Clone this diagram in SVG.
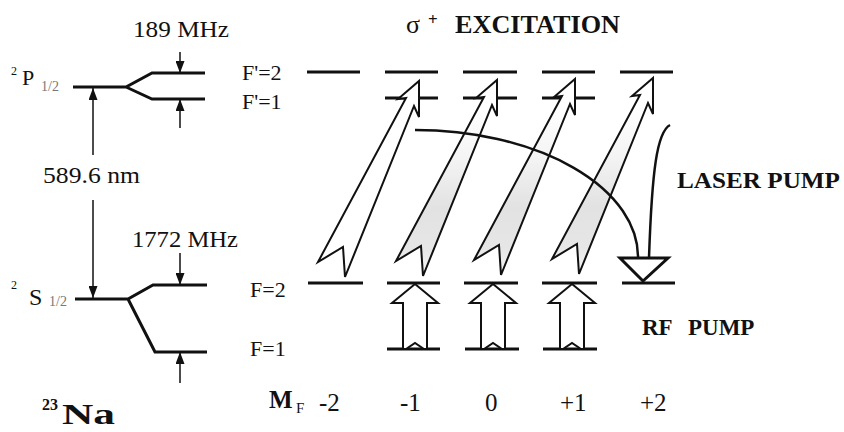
<svg xmlns="http://www.w3.org/2000/svg" xmlns:xlink="http://www.w3.org/1999/xlink" width="844" height="432" viewBox="0 0 844 432" font-family="Liberation Serif, DejaVu Serif, serif">
<style>
.lvl{stroke:#111;stroke-width:3;fill:none}
.thin{stroke:#111;stroke-width:1.5;fill:none}
.t{font-family:'Liberation Serif','DejaVu Serif',serif;fill:#111}
.b{font-weight:bold}
.sub{fill:#777}
.ex{stroke:#111;stroke-width:2;stroke-linejoin:miter}
.rf{fill:#fff;stroke:#111;stroke-width:2;stroke-linejoin:miter}
.pump{stroke:#111;stroke-width:2.5;fill:none}
</style>
<defs>
<marker id="ah" markerWidth="12" markerHeight="9" refX="12" refY="4.5" orient="auto" markerUnits="userSpaceOnUse">
<path d="M0,0 L12,4.5 L0,9 Z" fill="#111"/>
</marker>
<linearGradient id="gr" gradientUnits="userSpaceOnUse" x1="0" y1="110" x2="0" y2="275">
<stop offset="0" stop-color="#fff"/>
<stop offset="0.3" stop-color="#f4f4f4"/>
<stop offset="0.6" stop-color="#e2e2e2"/>
<stop offset="0.85" stop-color="#e6e6e6"/>
<stop offset="1" stop-color="#f6f6f6"/>
</linearGradient>
<path id="diag" d="M419,81 L419,117 L414,106 L345,277 L343,247 L318,262 L406,98 L398,99 Z"/>
<path id="rfa" d="M0,284 L23,303 L12,303 L12,349 L9,349 L0,343 L-9,349 L-12,349 L-12,303 L-23,303 Z"/>
</defs>

<g id="left-levels">
<g id="P12"><path class="lvl" d="M73,87 H126 L152,73 H205 M126,87 L152,99 H205"/></g>
<g id="S12"><path class="lvl" d="M75,299 H128 L153,285 H207 M128,299 L155,352 H207"/></g>
</g>

<g id="left-labels">
<text class="t" x="11" y="75" font-size="12">2</text>
<text class="t" x="22" y="85" font-size="22">P</text>
<text class="t sub" x="41" y="91" font-size="14">1/2</text>
<text class="t" x="11" y="289" font-size="12">2</text>
<text class="t" x="29" y="305" font-size="24">S</text>
<text class="t sub" x="49" y="306" font-size="14">1/2</text>
<text class="t" x="133" y="37" font-size="24" textLength="96" lengthAdjust="spacingAndGlyphs">189 MHz</text>
<text class="t" x="43" y="183" font-size="24" textLength="97" lengthAdjust="spacingAndGlyphs">589.6 nm</text>
<text class="t" x="132" y="247" font-size="24" textLength="106" lengthAdjust="spacingAndGlyphs">1772 MHz</text>
<text class="t" x="242" y="80" font-size="22">F'=2</text>
<text class="t" x="242" y="109" font-size="22">F'=1</text>
<text class="t" x="250" y="297" font-size="22">F=2</text>
<text class="t" x="250" y="356" font-size="22">F=1</text>
<text class="t b" x="42" y="410" font-size="16">23</text>
<text class="t b" x="62" y="424" font-size="29" textLength="53" lengthAdjust="spacingAndGlyphs">Na</text>
<text class="t b" x="269" y="408" font-size="25">M</text>
<text class="t" x="296" y="413" font-size="15">F</text>
<text class="t" x="319" y="411" font-size="25">-2</text>
<text class="t" x="400" y="411" font-size="25">-1</text>
<text class="t" x="485" y="411" font-size="25">0</text>
<text class="t" x="560" y="411" font-size="25">+1</text>
<text class="t" x="640" y="411" font-size="25">+2</text>
</g>

<g id="sublevels">
<g id="Fp2"><path class="lvl" d="M307,72 H360 M385,72 H438 M463,72 H517 M542,72 H595 M620,72 H673"/></g>
<g id="Fp1"><path class="lvl" d="M385,98 H438 M463,98 H517 M542,98 H595"/></g>
<g id="F2"><path class="lvl" d="M308,283 H363 M387,283 H440 M464,283 H518 M542,283 H597 M622,283 H675"/></g>
<g id="F1"><path class="lvl" d="M387,349 H440 M465,349 H519 M543,349 H597"/></g>
</g>

<g id="right-labels">
<text class="t" x="406" y="33" font-size="26">σ</text>
<text class="t b" x="428" y="25" font-size="17">+</text>
<text class="t b" x="455" y="33" font-size="26" textLength="165" lengthAdjust="spacingAndGlyphs">EXCITATION</text>
<text class="t b" x="677" y="188" font-size="23" textLength="163" lengthAdjust="spacingAndGlyphs">LASER PUMP</text>
<text class="t b" x="642" y="335" font-size="23">RF <tspan x="688">PUMP</tspan></text>
</g>

<g id="connectors">
<path class="thin" d="M180,52 L180,73" marker-end="url(#ah)"/>
<path class="thin" d="M180,128 L180,99" marker-end="url(#ah)"/>
<path class="thin" d="M93,155 L93,88" marker-end="url(#ah)"/>
<path class="thin" d="M93,200 L93,298" marker-end="url(#ah)"/>
<path class="thin" d="M180,253 L180,285" marker-end="url(#ah)"/>
<path class="thin" d="M180,383 L180,352" marker-end="url(#ah)"/>

<use xlink:href="#diag" class="ex" fill="#fff"/>
<use xlink:href="#diag" class="ex" fill="url(#gr)" transform="translate(78,-1)"/>
<use xlink:href="#diag" class="ex" fill="url(#gr)" transform="translate(156,-2)"/>
<use xlink:href="#diag" class="ex" fill="url(#gr)" transform="translate(234,-3)"/>

<use xlink:href="#rfa" class="rf" transform="translate(415,0)"/>
<use xlink:href="#rfa" class="rf" transform="translate(493,0)"/>
<use xlink:href="#rfa" class="rf" transform="translate(572,0)"/>

<path class="pump" d="M415,130 A223,127 0 0 1 638,258"/>
<path class="pump" d="M670,125 C657,132 652,170 649,258"/>
<path d="M620,258 H668 L643,281 Z" fill="#fff" stroke="#111" stroke-width="3" stroke-linejoin="miter"/>
</g>
</svg>
